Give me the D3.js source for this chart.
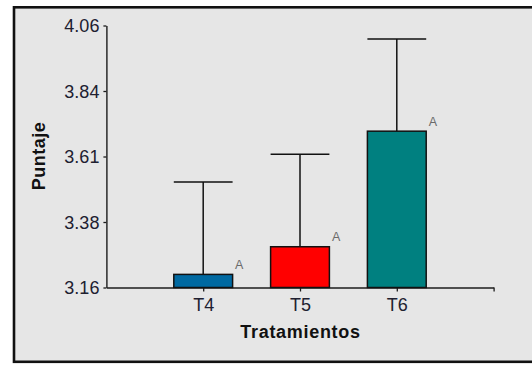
<!DOCTYPE html>
<html>
<head>
<meta charset="utf-8">
<script src="https://cdn.jsdelivr.net/npm/d3@7"></script>
<style>
  html, body { margin: 0; padding: 0; background: #ffffff; }
  svg { display: block; }
  text { font-family: "Liberation Sans", Arial, sans-serif; }
</style>
</head>
<body>
<svg id="chart" width="532" height="365"></svg>
<script>
// Treatment means with their error-bar extent and group letters
const categories = ["T4", "T5", "T6"];
const means = [3.205, 3.300, 3.697];
const errors = [0.317, 0.318, 0.317];
const groupLetters = ["A", "A", "A"];
const barColors = ["#0069a1", "#ff0000", "#008080"];
const yTickValues = [3.16, 3.385, 3.61, 3.835, 4.06];
const yTickLabels = ["3.16", "3.38", "3.61", "3.84", "4.06"];

const svg = d3.select("#chart");

// Grey panel with a heavy black frame
svg.append("rect")
  .attr("x", 14).attr("y", 7.3)
  .attr("width", 530).attr("height", 354.5)
  .attr("fill", "#e6e6e6")
  .attr("stroke", "#111")
  .attr("stroke-width", 2.6);

const x = d3.scaleLinear().domain([0, 4]).range([106.4, 493.6]);
const y = d3.scaleLinear().domain([3.16, 4.06]).range([287.5, 25.5]);
const barW = 58.8;

const ink = "#1c1c1c";

// Y axis
const yAxis = svg.append("g")
  .attr("transform", `translate(${x(0)},0)`)
  .call(d3.axisLeft(y)
    .tickValues(yTickValues)
    .tickFormat((d, i) => yTickLabels[i])
    .tickSizeInner(3).tickSizeOuter(0).tickPadding(4));
yAxis.select(".domain").attr("stroke", ink).attr("stroke-width", 1.4);
yAxis.selectAll(".tick line").attr("stroke", ink).attr("stroke-width", 1.3);
yAxis.selectAll(".tick text")
  .attr("fill", "#202030")
  .style("font-size", "18px")
  .attr("dy", "0.34em");

// X axis with ticks at each treatment plus the closing end tick
const xAxis = svg.append("g")
  .attr("transform", `translate(0,${y(3.16)})`)
  .call(d3.axisBottom(x)
    .tickValues([1, 2, 3, 4])
    .tickFormat(d => categories[d - 1] || "")
    .tickSizeInner(4).tickSizeOuter(0).tickPadding(7));
xAxis.select(".domain").attr("stroke", ink).attr("stroke-width", 1.4);
xAxis.selectAll(".tick line").attr("stroke", ink).attr("stroke-width", 1.3);
xAxis.selectAll(".tick text")
  .attr("fill", "#202030")
  .style("font-size", "18px");

const data = categories.map((c, i) => ({
  cat: c, pos: i + 1, mean: means[i], err: errors[i],
  letter: groupLetters[i], color: barColors[i]
}));

// Error bars drawn behind the bars
const eb = svg.append("g");
eb.selectAll("line.stem").data(data).join("line")
  .attr("x1", d => x(d.pos)).attr("x2", d => x(d.pos))
  .attr("y1", d => y(d.mean)).attr("y2", d => y(d.mean + d.err))
  .attr("stroke", "#111").attr("stroke-width", 1.5);
eb.selectAll("line.cap").data(data).join("line")
  .attr("x1", d => x(d.pos) - barW / 2).attr("x2", d => x(d.pos) + barW / 2)
  .attr("y1", d => y(d.mean + d.err)).attr("y2", d => y(d.mean + d.err))
  .attr("stroke", "#111").attr("stroke-width", 1.5);

// Bars
svg.append("g").selectAll("rect").data(data).join("rect")
  .attr("x", d => x(d.pos) - barW / 2)
  .attr("y", d => y(d.mean))
  .attr("width", barW)
  .attr("height", d => y(3.16) - y(d.mean))
  .attr("fill", d => d.color)
  .attr("stroke", "#111")
  .attr("stroke-width", 1.5);

// Group letters beside each bar
svg.append("g").selectAll("text").data(data).join("text")
  .attr("x", d => x(d.pos) + barW / 2 + 2.5)
  .attr("y", d => y(d.mean) - 5.5)
  .attr("fill", "#6a6a6a")
  .style("font-size", "12.5px")
  .text(d => d.letter);

// Axis titles
svg.append("text")
  .attr("x", 300.5).attr("y", 338.3)
  .attr("text-anchor", "middle")
  .attr("fill", "#111")
  .style("font-size", "18px").style("font-weight", "bold")
  .style("letter-spacing", "0.7px")
  .text("Tratamientos");

svg.append("text")
  .attr("transform", "translate(44.5,156) rotate(-90)")
  .attr("text-anchor", "middle")
  .attr("fill", "#111")
  .style("font-size", "18px").style("font-weight", "bold")
  .style("letter-spacing", "0.5px")
  .text("Puntaje");
</script>
</body>
</html>
